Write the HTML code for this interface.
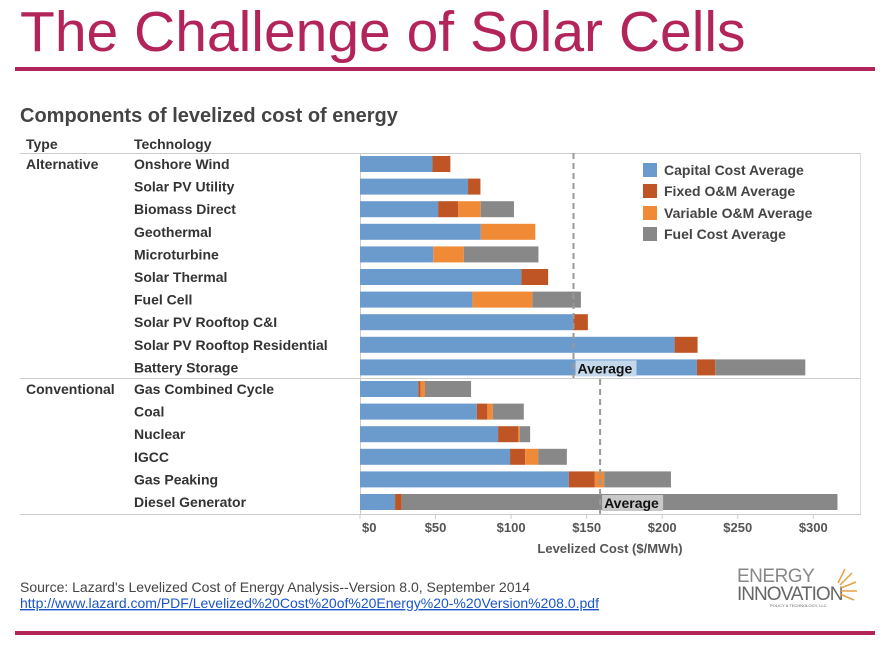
<!DOCTYPE html>
<html><head><meta charset="utf-8"><style>
body{margin:0;background:#fff;width:895px;height:646px;overflow:hidden;font-family:"Liberation Sans",sans-serif}
</style></head><body>
<svg id="s" width="895" height="646" xmlns="http://www.w3.org/2000/svg" font-family="Liberation Sans, sans-serif">
<text x="20" y="51" font-size="57" fill="#b3245b">The Challenge of Solar Cells</text>
<rect x="15" y="67" width="860" height="4" fill="#b3245b"/>
<rect x="15" y="631" width="860" height="4" fill="#b3245b"/>
<text x="20" y="122" font-size="20" font-weight="bold" fill="#444">Components of levelized cost of energy</text>
<text x="26" y="149" font-size="14" font-weight="bold" fill="#333">Type</text>
<text x="134" y="149" font-size="14" font-weight="bold" fill="#333">Technology</text>
<line x1="20" y1="153.5" x2="861" y2="153.5" stroke="#ccc"/>
<line x1="20" y1="378.5" x2="861" y2="378.5" stroke="#ccc"/>
<line x1="20" y1="514.5" x2="861" y2="514.5" stroke="#ccc"/>
<line x1="360.5" y1="153" x2="360.5" y2="514" stroke="#ccc"/>
<line x1="860.5" y1="153" x2="860.5" y2="514" stroke="#ddd"/>
<text x="26" y="169" font-size="14" font-weight="bold" fill="#333">Alternative</text>
<text x="26" y="394" font-size="14" font-weight="bold" fill="#333">Conventional</text>
<g id="bars"></g><g id="labels"></g><g id="axis"></g>
<text x="610" y="553" font-size="13" font-weight="bold" fill="#555" text-anchor="middle">Levelized Cost ($/MWh)</text>
<g>
<rect x="643" y="163" width="14" height="14" fill="#6b9bcd"/><text x="664" y="175" font-size="14" font-weight="bold" fill="#444">Capital Cost Average</text>
<rect x="643" y="184" width="14" height="14" fill="#bf5524"/><text x="664" y="196" font-size="14" font-weight="bold" fill="#444">Fixed O&amp;M Average</text>
<rect x="643" y="206" width="14" height="14" fill="#f08a36"/><text x="664" y="218" font-size="14" font-weight="bold" fill="#444">Variable O&amp;M Average</text>
<rect x="643" y="227" width="14" height="14" fill="#888"/><text x="664" y="239" font-size="14" font-weight="bold" fill="#444">Fuel Cost Average</text>
</g>
<text x="20" y="592" font-size="14" fill="#444">Source: Lazard's Levelized Cost of Energy Analysis--Version 8.0, September 2014</text>
<text x="20" y="608" font-size="14" fill="#1a55c8" text-decoration="underline">http://www.lazard.com/PDF/Levelized%20Cost%20of%20Energy%20-%20Version%208.0.pdf</text>
<g>
<text x="737" y="582" font-size="19" fill="#888" letter-spacing="-0.5">ENERGY</text>
<text x="737" y="600" font-size="19" fill="#666" letter-spacing="-1">INNOVATION</text>
<text x="770" y="607" font-size="4" fill="#666">POLICY &amp; TECHNOLOGY, LLC</text>
<g stroke="#e8a040" stroke-width="1.5"><line x1="840" y1="585" x2="852" y2="573"/><line x1="841" y1="588" x2="856" y2="582"/><line x1="841" y1="591" x2="857" y2="591"/><line x1="840" y1="594" x2="854" y2="600"/><line x1="838" y1="583" x2="845" y2="569"/></g>
</g>
</svg>
<script>
const techs=["Onshore Wind","Solar PV Utility","Biomass Direct","Geothermal","Microturbine","Solar Thermal","Fuel Cell","Solar PV Rooftop C&I","Solar PV Rooftop Residential","Battery Storage","Gas Combined Cycle","Coal","Nuclear","IGCC","Gas Peaking","Diesel Generator"];
const capital=[48,71.5,51.7,80,48.5,106.8,74.4,141.3,208.2,223,38.6,77.3,91.4,99.3,138.2,23.2];
const fixedOM=[11.8,8.2,13.2,0,0,17.7,0,9.5,15.2,12.1,1.4,7,13.4,10,17.2,4.4];
const varOM=[0,0,15,36,20.2,0,39.7,0,0,0,3,3.6,0.9,8.6,6.2,0];
const fuel=[0,0,22,0,49.4,0,32.1,0,0,59.6,30.5,20.5,6.9,19,44.2,288.4];
const groupAvg=[141.3,158.9];
const ticks=[0,50,100,150,200,250,300];
const tickLabels=["$0","$50","$100","$150","$200","$250","$300"];
const NS="http://www.w3.org/2000/svg";
const x=v=>360+v*1.511;
const rowY=i=>i<10?164+i*22.6:389+(i-10)*22.6;
function mk(t,a,p){const e=document.createElementNS(NS,t);for(const k in a)e.setAttribute(k,a[k]);p.appendChild(e);return e;}
const bars=document.getElementById('bars'),labels=document.getElementById('labels'),axis=document.getElementById('axis');
const series=[[capital,"#6b9bcd","capital"],[fixedOM,"#bf5524","fixed-om"],[varOM,"#f08a36","variable-om"],[fuel,"#888","fuel"]];
techs.forEach((t,i)=>{
 let acc=0;
 series.forEach(([arr,c,n])=>{
  const v=arr[i];if(v>0){const r=mk('rect',{x:x(acc),y:rowY(i)-8,width:x(acc+v)-x(acc),height:16,fill:c},bars);
  
  }
  acc+=v;});
 const tx=mk('text',{x:134,y:rowY(i)+5,'font-size':14,'font-weight':'bold',fill:'#333'},labels);
 tx.textContent=t;
 
 
});
groupAvg.forEach((v,g)=>{
 const y1=g==0?153:379,y2=g==0?378:514;
 const l=mk('line',{x1:x(v),x2:x(v),y1:y1,y2:y2,stroke:'#999','stroke-width':2,'stroke-dasharray':'6,4'},bars);
 
 
 const yy=g==0?rowY(9):rowY(15);
 const r=mk('rect',{x:x(v)+2,y:yy-7,width:61,height:16,fill:g==0?'#c5d7ea':'#c8c8c8'},bars);
 
 
 const t=mk('text',{x:x(v)+4,y:yy+6,'font-size':14,'font-weight':'bold',fill:'#111'},bars);
 t.textContent='Average';
 
 
});
ticks.forEach((v,i)=>{
 const l=mk('line',{x1:x(v),x2:x(v),y1:514,y2:519,stroke:'#ccc'},axis);
 
 
 const t=mk('text',{x:i==0?362:x(v),y:532,'font-size':13,'font-weight':'bold',fill:'#555','text-anchor':i==0?'start':'middle'},axis);
 t.textContent=tickLabels[i];
 
 
});
</script>
</body></html>
